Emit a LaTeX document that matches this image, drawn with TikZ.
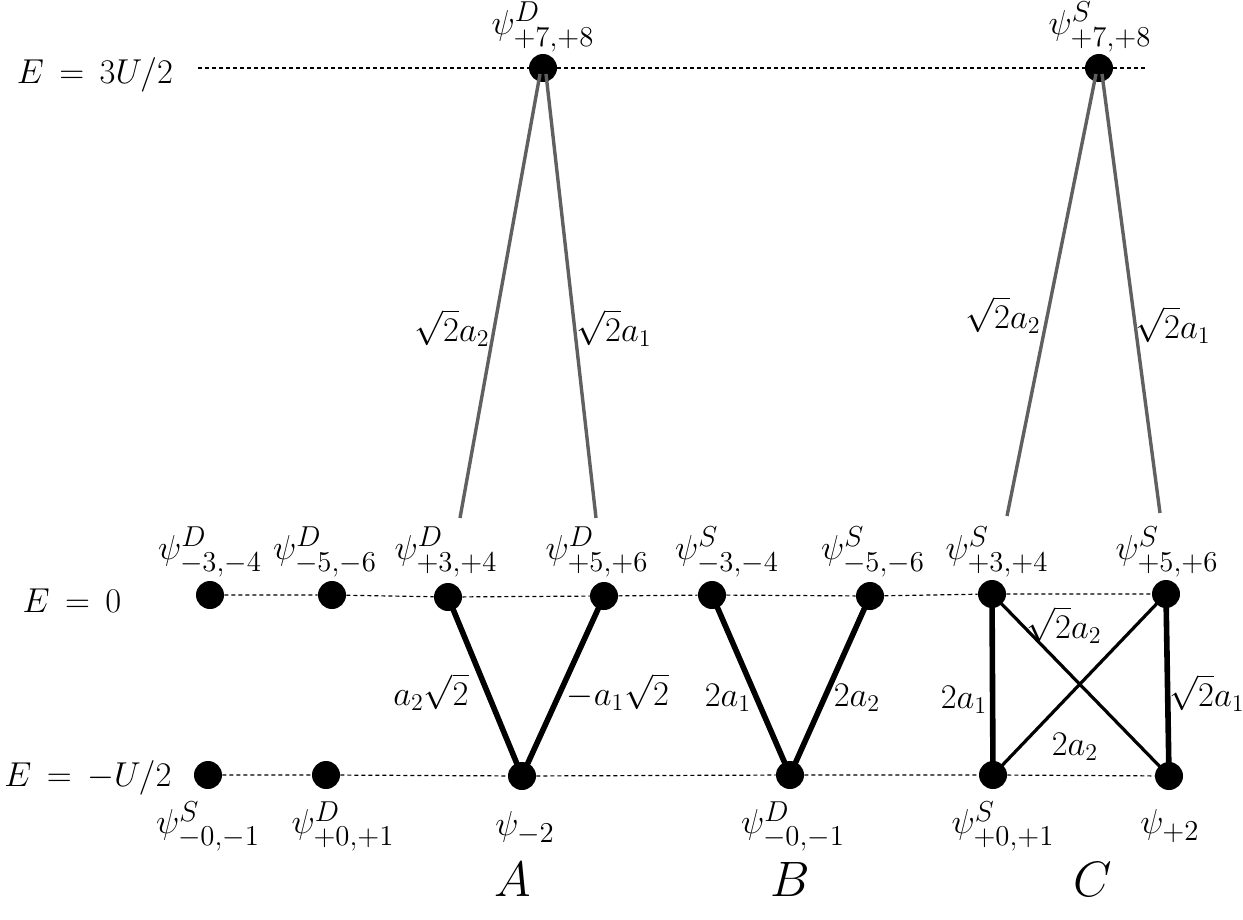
\documentclass[tikz,border=0pt]{standalone}
\usepackage{amsmath}
\definecolor{greyline}{RGB}{96,96,96}
\begin{document}
\begin{tikzpicture}[x=0.5pt,y=-0.5pt,
  dot/.style={circle,fill=black,inner sep=0pt,minimum size=14pt},
  dline/.style={dashed,dash pattern=on 2pt off 1.5pt,line width=0.6pt},
  thick edge/.style={line width=2.8pt},
  cross edge/.style={line width=1.6pt},
  grey edge/.style={line width=1.7pt,color=greyline},
  lbl/.style={font=\fontsize{17}{20}\selectfont,inner sep=0pt},
  level/.style={font=\fontsize{18}{21}\selectfont,inner sep=0pt},
  big/.style={font=\fontsize{19}{23}\selectfont,inner sep=0pt},
  blockname/.style={font=\fontsize{23}{27}\selectfont,inner sep=0pt}]
\useasboundingbox (0,0) rectangle (1243,920);
% level labels
\node[level] (E1) at (95,75) {$E\,=\,3U/2$};
\node[level] (E2) at (72,601) {$E\,=\,0$};
\node[level] (E3) at (88,778) {$E\,=\,-U/2$};
% top nodes
\node[dot] (D78) at (543,68) {};
\node[dot] (S78) at (1099,68) {};
% middle row
\node[dot] (Dm34) at (210,595) {};
\node[dot] (Dm56) at (332,595) {};
\node[dot] (Dp34) at (448,597) {};
\node[dot] (Dp56) at (604,596) {};
\node[dot] (Sm34) at (712,595) {};
\node[dot] (Sm56) at (870,596) {};
\node[dot] (Sp34) at (992,594) {};
\node[dot] (Sp56) at (1166,594) {};
% bottom row
\node[dot] (Sm01) at (208,775) {};
\node[dot] (Dp01) at (326,775) {};
\node[dot] (m2) at (522,776) {};
\node[dot] (Dm01) at (790,775) {};
\node[dot] (Sp01) at (993,775) {};
\node[dot] (p2) at (1169,776) {};
% dashed levels
\coordinate (tl) at (198,68);
\coordinate (tr) at (1148,68);
\draw[dline] (tl) -- (D78) -- (S78) -- (tr);
\draw[dline] (Dm34) -- (Dm56) -- (Dp34) -- (Dp56) -- (Sm34) -- (Sm56) -- (Sp34) -- (Sp56);
\draw[dline] (Sm01) -- (Dp01) -- (m2) -- (Dm01) -- (Sp01) -- (p2);
% grey couplings
\coordinate (g1) at (460,518);
\coordinate (g2) at (596,518);
\coordinate (g3) at (1007,516);
\coordinate (g4) at (1160,513);
\draw[grey edge] (D78.center) ++(-3,6) coordinate (D78a) (D78a) -- (g1);
\draw[grey edge] (D78.center) ++(3,6) coordinate (D78b) (D78b) -- (g2);
\draw[grey edge] (S78.center) ++(-3,6) coordinate (S78a) (S78a) -- (g3);
\draw[grey edge] (S78.center) ++(3,6) coordinate (S78b) (S78b) -- (g4);
\node[lbl] (l1) at (452,328) {$\sqrt{2}a_2$};
\node[lbl] (l2) at (614,328) {$\sqrt{2}a_1$};
\node[lbl] (l3) at (1003,315) {$\sqrt{2}a_2$};
\node[lbl] (l4) at (1173,325) {$\sqrt{2}a_1$};
% A block
\draw[thick edge] (Dp34.center) -- (m2.center);
\draw[thick edge] (Dp56.center) -- (m2.center);
\node[lbl] (la1) at (431,692) {$a_2\sqrt{2}$};
\node[lbl] (la2) at (618,692) {$-a_1\sqrt{2}$};
% B block
\draw[thick edge] (Sm34.center) -- (Dm01.center);
\draw[thick edge] (Sm56.center) -- (Dm01.center);
\node[lbl] (lb1) at (728,698) {$2a_1$};
\node[lbl] (lb2) at (857,698) {$2a_2$};
% C block
\draw[thick edge] (Sp34.center) -- (Sp01.center);
\draw[thick edge] (Sp56.center) -- (p2.center);
\draw[cross edge] (Sp34.center) -- (p2.center);
\draw[cross edge] (Sp56.center) -- (Sp01.center);
\node[lbl] (lc1) at (964,700) {$2a_1$};
\node[lbl] (lc2) at (1064,625) {$\sqrt{2}a_2$};
\node[lbl] (lc3) at (1207,693) {$\sqrt{2}a_1$};
\node[lbl] (lc4) at (1075,747) {$2a_2$};
% state labels
\node[big] (t1) at (543,27) {$\psi^{D}_{+7,+8}$};
\node[big] (t2) at (1100,27) {$\psi^{S}_{+7,+8}$};
\node[big] (n1) at (210,552) {$\psi^{D}_{-3,-4}$};
\node[big] (n2) at (325,552) {$\psi^{D}_{-5,-6}$};
\node[big] (n3) at (446,552) {$\psi^{D}_{+3,+4}$};
\node[big] (n4) at (597,552) {$\psi^{D}_{+5,+6}$};
\node[big] (n5) at (727,552) {$\psi^{S}_{-3,-4}$};
\node[big] (n6) at (873,552) {$\psi^{S}_{-5,-6}$};
\node[big] (n7) at (997,552) {$\psi^{S}_{+3,+4}$};
\node[big] (n8) at (1167,552) {$\psi^{S}_{+5,+6}$};
\node[big] (b1) at (208,826) {$\psi^{S}_{-0,-1}$};
\node[big] (b2) at (343,826) {$\psi^{D}_{+0,+1}$};
\node[big] (b3) at (525,828) {$\psi_{-2}$};
\node[big] (b4) at (793,826) {$\psi^{D}_{-0,-1}$};
\node[big] (b5) at (1003,826) {$\psi^{S}_{+0,+1}$};
\node[big] (b6) at (1170,826) {$\psi_{+2}$};
% block letters
\node[blockname] (A) at (513,879) {$A$};
\node[blockname] (B) at (790,879) {$B$};
\node[blockname] (C) at (1093,879) {$C$};
\end{tikzpicture}
\end{document}
